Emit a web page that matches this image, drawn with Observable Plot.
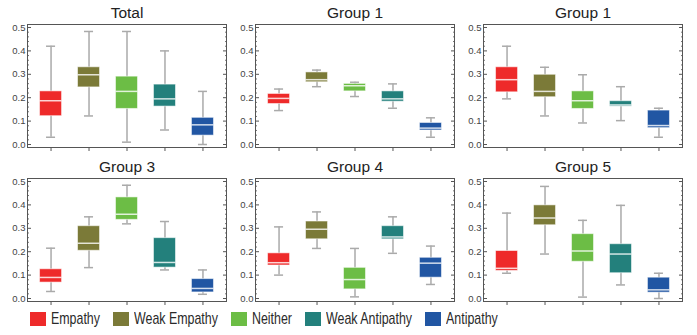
<!DOCTYPE html>
<html><head><meta charset="utf-8">
<script src="https://cdn.jsdelivr.net/npm/d3@7"></script>
<script src="https://cdn.jsdelivr.net/npm/@observablehq/plot@0.6"></script>
<style>
body{margin:0;background:#fff;width:697px;height:335px;overflow:hidden;font-family:"Liberation Sans",Arial,sans-serif;}
#grid{position:relative;width:697px;height:308px;}
.cell{position:absolute;}
#legend{position:absolute;left:30px;top:311px;height:16px;display:flex;align-items:center;white-space:nowrap;}
.item{display:flex;align-items:center;margin-right:13px;}
.sw{display:inline-block;width:16px;height:14px;margin-right:5px;}
.lt{display:inline-block;font-size:17px;color:#2a2a2a;transform:scaleX(0.73);transform-origin:left center;line-height:16px;}
</style></head><body>
<div id="grid"></div><div id="legend"></div>
<script>
const categories = ["Empathy","Weak Empathy","Neither","Weak Antipathy","Antipathy"];
const colors = ["#ee2a2a","#7b7a38","#6cbd45","#23807c","#2156a3"];
const titles = ["Total","Group 1","Group 1","Group 3","Group 4","Group 5"];
// each entry: [lower whisker, Q1, median, Q3, upper whisker], in category order
const total  = [[0.031,0.121,0.187,0.227,0.420],[0.122,0.244,0.298,0.330,0.483],[0.010,0.152,0.227,0.290,0.483],[0.062,0.162,0.195,0.256,0.400],[0.000,0.038,0.084,0.114,0.227]];
const group1a = [[0.145,0.173,0.197,0.216,0.237],[0.247,0.266,0.277,0.308,0.318],[0.205,0.227,0.251,0.259,0.266],[0.155,0.183,0.195,0.227,0.259],[0.031,0.060,0.070,0.092,0.114]];
const group1b = [[0.195,0.223,0.277,0.330,0.420],[0.122,0.202,0.227,0.298,0.330],[0.092,0.152,0.187,0.227,0.298],[0.102,0.162,0.169,0.185,0.247],[0.031,0.070,0.081,0.145,0.155]];
const group3 = [[0.030,0.068,0.090,0.125,0.215],[0.132,0.204,0.236,0.309,0.349],[0.319,0.336,0.360,0.432,0.484],[0.122,0.132,0.154,0.258,0.329],[0.018,0.026,0.043,0.083,0.122]];
const group4 = [[0.100,0.141,0.153,0.193,0.306],[0.214,0.253,0.296,0.329,0.370],[0.007,0.039,0.081,0.131,0.214],[0.193,0.253,0.263,0.309,0.349],[0.060,0.089,0.151,0.174,0.224]];
const group5 = [[0.108,0.118,0.129,0.203,0.365],[0.190,0.313,0.344,0.398,0.479],[0.006,0.157,0.203,0.275,0.334],[0.058,0.108,0.190,0.232,0.398],[0.000,0.025,0.037,0.089,0.108]];
const panels = [total, group1a, group1b, group3, group4, group5];
const yTicks = [0, 0.1, 0.2, 0.3, 0.4, 0.5];
const yMinor = [0.02,0.04,0.06,0.08,0.12,0.14,0.16,0.18,0.22,0.24,0.26,0.28,0.32,0.34,0.36,0.38,0.42,0.44,0.46,0.48];

const grid = document.getElementById("grid");
panels.forEach((stats, i) => {
  const rows = stats.map((s, j) => ({cat: categories[j], lo: s[0], q1: s[1], med: s[2], q3: s[3], hi: s[4]}));
  const blank = () => "";
  const chart = Plot.plot({
    width: 228, height: 154,
    marginLeft: 27, marginRight: 2, marginTop: 24, marginBottom: 7,
    style: {fontFamily: "'Liberation Sans', Arial, sans-serif", overflow: "visible", background: "transparent"},
    x: {domain: categories, paddingInner: 0.42, paddingOuter: 0.33, round: false, axis: null},
    y: {domain: [-0.0128, 0.5128], axis: null},
    color: {domain: categories, range: colors},
    marks: [
      Plot.ruleX(rows, {x: "cat", y1: "lo", y2: "hi", stroke: "#aaa", strokeWidth: 1.5}),
      Plot.tickY(rows, {x: "cat", y: "lo", stroke: "#aaa", strokeWidth: 1.5, insetLeft: 6.5, insetRight: 6.5}),
      Plot.tickY(rows, {x: "cat", y: "hi", stroke: "#aaa", strokeWidth: 1.5, insetLeft: 6.5, insetRight: 6.5}),
      Plot.barY(rows, {x: "cat", y1: "q1", y2: "q3", fill: "cat", stroke: "white", strokeOpacity: 0.55, strokeWidth: 1}),
      Plot.tickY(rows, {x: "cat", y: "med", stroke: "white", strokeOpacity: 0.8, strokeWidth: 1.5}),
      Plot.axisY({ticks: yTicks, tickSize: 0, tickPadding: 2, tickFormat: d3.format(".1f"), fontSize: 9.5, fill: "#444", label: null}),
      Plot.axisY({ticks: yTicks, tickSize: -4, tickFormat: blank, stroke: "#555", label: null}),
      Plot.axisY({ticks: yMinor, tickSize: -2, tickFormat: blank, stroke: "#777", label: null}),
      Plot.axisY({anchor: "right", ticks: yTicks, tickSize: -4, tickFormat: blank, stroke: "#555", label: null}),
      Plot.axisY({anchor: "right", ticks: yMinor, tickSize: -2, tickFormat: blank, stroke: "#777", label: null}),
      Plot.axisX({tickSize: 4, tickFormat: blank, stroke: "#555", label: null}),
      Plot.frame({stroke: "#555"}),
      Plot.text([titles[i]], {frameAnchor: "top", dy: -11, lineAnchor: "middle", fontSize: 15.5, fontWeight: "normal", fill: "#222"})
    ]
  });
  const cell = document.createElement("div");
  cell.className = "cell";
  cell.style.left = (i % 3) * 228 + "px";
  cell.style.top = Math.floor(i / 3) * 154 + "px";
  cell.appendChild(chart);
  grid.appendChild(cell);
});

const legend = d3.select("#legend");
categories.forEach((c, j) => {
  const item = legend.append("div").attr("class", "item");
  item.append("span").attr("class", "sw").style("background", colors[j]);
  const t = item.append("span").attr("class", "lt").text(c);
  const w = t.node().offsetWidth;
  t.style("margin-right", (-(1 - 0.73) * w) + "px");
});
</script>
</body></html>
